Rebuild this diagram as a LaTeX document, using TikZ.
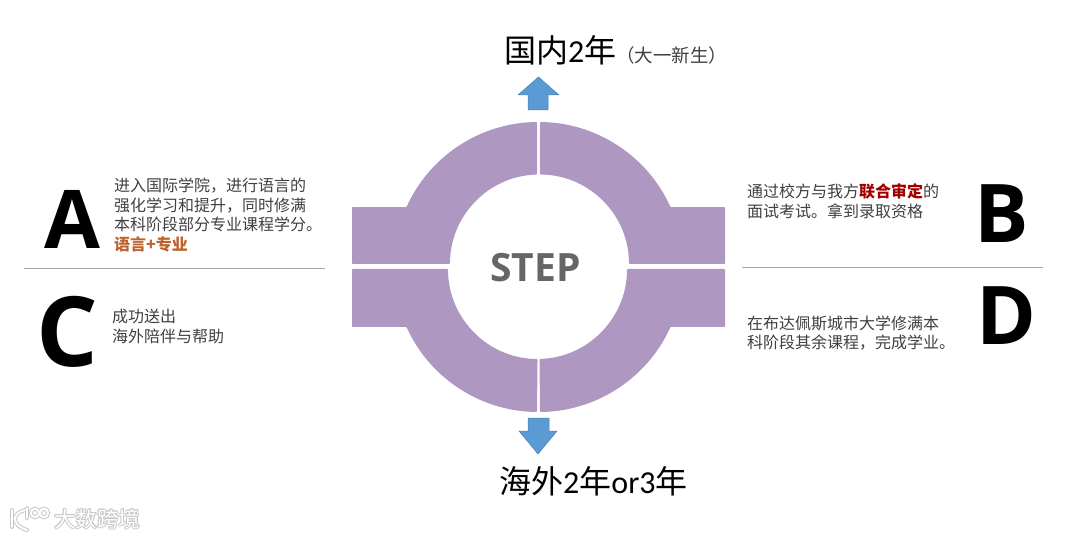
\documentclass[tikz,border=0pt]{standalone}
\usepackage{fontspec}
\setmainfont{Carlito}
\newfontfamily\cjk{Noto Sans CJK SC}
\newfontfamily\heavy{Open Sans}
\definecolor{ringc}{HTML}{AE97C1}
\definecolor{arrowc}{HTML}{5B9BD5}
\definecolor{arrowd}{HTML}{4A80B0}
\definecolor{rulec}{HTML}{A6A6A6}
\definecolor{stepc}{HTML}{666666}
\definecolor{bodyc}{HTML}{404040}
\definecolor{redc}{HTML}{A00000}
\definecolor{orangec}{HTML}{C0622D}
\definecolor{wmshadow}{HTML}{C8C8C8}
\tikzset{
 ring/.style={fill=ringc,draw=none,rounded corners=0.8pt},
 blockarrow/.style={fill=arrowc,draw=arrowd,line width=0.5pt},
 sep/.style={draw=rulec,line width=0.7pt},
 letter/.style={font=\heavy\fontsize{81}{81}\selectfont\bfseries,text=black,inner sep=0pt},
 body/.style={font=\cjk\fontsize{16}{19.5}\selectfont,text=bodyc,align=left,anchor=west,inner sep=0pt},
 title/.style={text=black,inner sep=0pt,anchor=west},
 wmtext/.style={font=\cjk\fontsize{21.5}{21.5}\selectfont,inner sep=0pt,anchor=west},
 wmlogo/.pic={
   \draw (12,29) -- (12,12);
   \draw (25,29) .. controls (18,27) and (15,24) .. (15,20) .. controls (15,15) and (20,11) .. (27,9);
   \draw (27,31) -- (27,21);
   \draw (35,26) circle[radius=4.2];
   \draw (44,26) circle[radius=4.2];
 },
}
\begin{document}
\begin{tikzpicture}[x=1pt,y=1pt]
\useasboundingbox (0,0) rectangle (1080,539);
\fill[white] (0,0) rectangle (1080,539);
% upper left (y = 539 - pixel y)
\fill[ring] (537,417) arc[start angle=90.6,end angle=155.6,radius=145] -- (352,332) -- (352,275) -- (450,275) arc[start angle=180,end angle=91.6,radius=89.5] -- cycle;
% upper right
\fill[ring] (540,417) arc[start angle=89.4,end angle=24.4,radius=145] -- (725,332) -- (725,275) -- (629,275) arc[start angle=0,end angle=89.7,radius=89.5] -- cycle;
% lower left
\fill[ring] (537,127) arc[start angle=269.4,end angle=204.4,radius=145] -- (352,212) -- (352,270) -- (448,270) arc[start angle=180,end angle=269.7,radius=90] -- cycle;
% lower right
\fill[ring] (540,127) arc[start angle=270.6,end angle=335.6,radius=145] -- (725,212) -- (725,270) -- (627,270) arc[start angle=0,end angle=-88.4,radius=90] -- cycle;
\node[font=\heavy\fontsize{39}{39}\selectfont\bfseries,text=stepc,inner sep=0pt] (step) at (535.5,271) {STEP};
% arrows
\draw[blockarrow] (538.5,462) -- (559,444) -- (548,444) -- (548,429) -- (528,429) -- (528,444) -- (518,444) -- cycle;
\draw[blockarrow] (538,85) -- (557,108) -- (549,108) -- (549,121) -- (528,121) -- (528,108) -- (519,108) -- cycle;
% titles
\node[title] (t1) at (504,489) {\cjk\fontsize{32}{33}\selectfont 国内\fontspec{Carlito}2\cjk 年};
\node[text=bodyc,inner sep=0pt,anchor=west] (t1b) at (616,484) {\cjk\fontsize{18.5}{19}\selectfont （大一新生）};
\node[title] (t2) at (499,58) {\cjk\fontsize{32}{33}\selectfont 海外\fontspec{Carlito}2\cjk 年\fontspec{Carlito}or3\cjk 年};
% letters
\node[letter] (A) at (72,320) {A};
\node[letter] (B) at (1001.5,325) {B};
\node[letter,font=\heavy\fontsize{97}{97}\selectfont\bfseries] (C) at (67.5,207) {C};
\node[letter] (D) at (1006,223.5) {D};
% rules
\coordinate (l1) at (24,271); \coordinate (l2) at (325,271);
\coordinate (r1) at (742,272); \coordinate (r2) at (1043,272);
\draw[sep] (l1) -- (l2);
\draw[sep] (r1) -- (r2);
% body
\node[body] (ta) at (114,324) {进入国际学院，进行语言的\\强化学习和提升，同时修满\\本科阶段部分专业课程学分。\\{\color{orangec}\bfseries 语言+专业}};
\node[body] (tb) at (747,338) {通过校方与我方{\color{redc}\bfseries 联合审定}的\\面试考试。拿到录取资格};
\node[body] (tc) at (112,212.5) {成功送出\\海外陪伴与帮助};
\node[body] (td) at (747,206) {在布达佩斯城市大学修满本\\科阶段其余课程，完成学业。};
% watermark
\foreach \dx/\dy [count=\k] in {1/0,-1/0,0/1,0/-1,.7/.7,-.7/.7,.7/-.7,-.7/-.7}
  \node[wmtext,text=wmshadow] (wms\k) at (54+\dx,20+\dy) {大数跨境};
\node[wmtext,text=white] (wm) at (54,20) {大数跨境};
\pic[draw=wmshadow,line width=4pt,line cap=round] at (0,0) {wmlogo};
\pic[draw=white,line width=2pt,line cap=round] at (0,0) {wmlogo};
\end{tikzpicture}
\end{document}
